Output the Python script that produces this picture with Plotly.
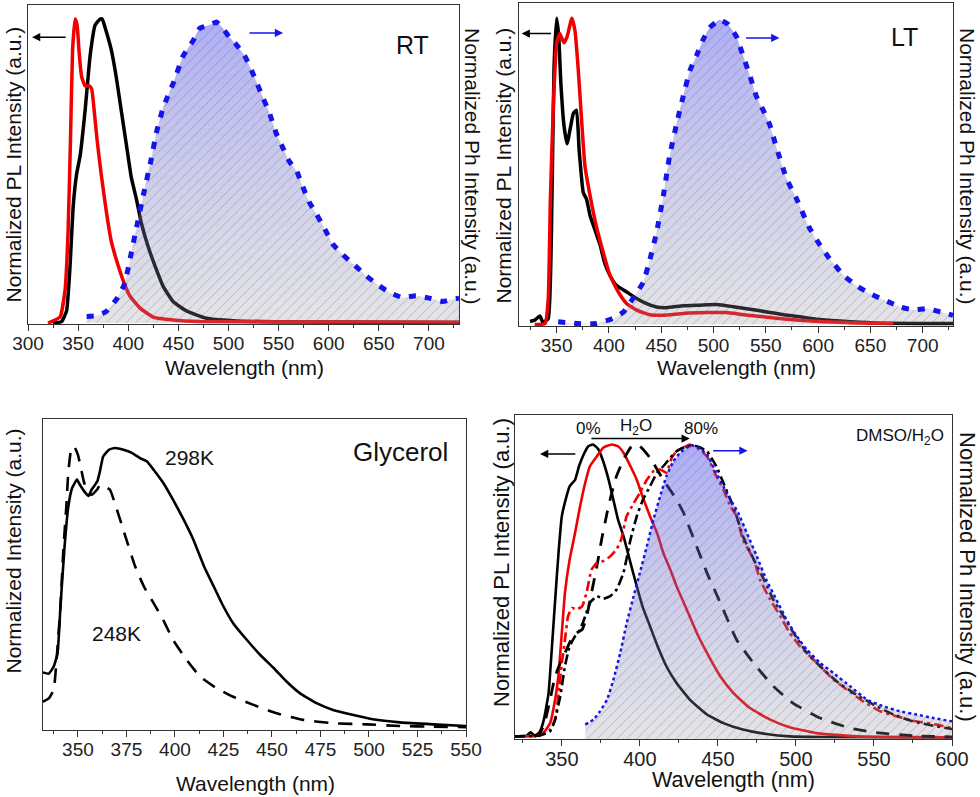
import plotly.graph_objs as go

FONT = 'Liberation Sans, Arial, sans-serif'
W, H = 980, 797

# ---------- top left: RT ----------
rt_red_x = [320, 332, 337, 340, 342.5, 344.5, 347, 349, 351, 353.5, 357, 361, 363.5, 366, 369, 373, 378,
            383, 388, 395, 401.5, 411.5, 425, 445, 471, 730]
rt_red_y = [0, 0.02, 0.11, 0.30, 0.62, 0.90, 1.0, 0.98, 0.89, 0.81, 0.78, 0.78, 0.77, 0.70, 0.60, 0.49, 0.37,
            0.27, 0.21, 0.14, 0.09, 0.05, 0.02, 0.01, 0.005, 0.003]
rt_black_x = [325, 333.5, 338.5, 342, 345, 348.5, 352, 357, 362, 367, 372, 374, 378, 383, 388, 393, 398, 403,
              408, 413, 420, 426.5, 435, 445, 458, 478, 504.5, 554.5, 730]
rt_black_y = [0, 0.005, 0.04, 0.19, 0.38, 0.49, 0.55, 0.70, 0.88, 0.98, 1.0, 1.0, 0.96, 0.90, 0.81, 0.70, 0.59,
              0.48, 0.41, 0.33, 0.25, 0.19, 0.12, 0.07, 0.04, 0.016, 0.008, 0.004, 0.002]
rt_blue_x = [358.5, 368.5, 378, 388, 396.5, 403, 408, 415, 423, 428, 435, 445, 455, 465, 471.5, 481, 488, 493,
             501, 508, 516, 524.5, 534.5, 541, 547.5, 554.5, 561, 568, 574, 581, 587.5, 596, 604, 614, 626,
             637.5, 649, 661, 674, 687, 700.5, 714, 724, 730]
rt_blue_y = [0.022, 0.024, 0.038, 0.077, 0.13, 0.23, 0.31, 0.42, 0.54, 0.625, 0.71, 0.79, 0.88, 0.93, 0.97,
             0.98, 0.99, 0.975, 0.94, 0.915, 0.88, 0.82, 0.74, 0.69, 0.625, 0.575, 0.53, 0.50, 0.45, 0.395,
             0.36, 0.31, 0.26, 0.225, 0.19, 0.155, 0.126, 0.10, 0.084, 0.09, 0.082, 0.071, 0.079, 0.082]

# ---------- top right: LT ----------
lt_black_x = [324.5, 329, 334, 337, 342, 345, 347.5, 350, 352, 354, 357, 360, 363, 366, 369, 371.5, 375.5,
              378.5, 382, 386.5, 391.5, 396, 401, 407, 417, 426.5, 436, 445.5, 455, 471, 487, 503, 519, 535,
              551, 567, 582.5, 598.5, 621, 653, 729]
lt_black_y = [0.01, 0.014, 0.028, 0.006, 0.02, 0.30, 0.84, 1.0, 0.94, 0.79, 0.65, 0.59, 0.64, 0.69, 0.70,
              0.57, 0.43, 0.41, 0.355, 0.31, 0.26, 0.20, 0.16, 0.128, 0.106, 0.085, 0.068, 0.057, 0.055,
              0.061, 0.063, 0.065, 0.058, 0.05, 0.041, 0.032, 0.025, 0.017, 0.011, 0.005, 0.003]
lt_red_x = [329, 339, 342, 344, 347, 350, 353, 357, 360, 364.5, 367.5, 370.5, 374, 377, 382, 388, 394.5, 401,
            409, 417, 426.5, 439, 452, 471, 493.5, 512.5, 528.5, 547.5, 573, 605, 637, 672]
lt_red_y = [0, 0.003, 0.085, 0.41, 0.73, 0.92, 0.95, 0.92, 0.94, 1.0, 0.96, 0.84, 0.66, 0.52, 0.42, 0.32,
            0.236, 0.16, 0.106, 0.068, 0.047, 0.032, 0.03, 0.036, 0.039, 0.039, 0.032, 0.025, 0.016, 0.009,
            0.005, 0.003]
lt_blue_x = [351.5, 369, 388, 404, 414, 423, 433, 439, 445.5, 452, 458, 465, 471, 477.5, 484, 490, 496.5,
             506, 514, 522, 528.5, 535, 541, 547.5, 554, 560, 570, 579.5, 591, 602, 611, 624.5, 637, 650,
             663, 679, 691.5, 704, 717, 729]
lt_blue_y = [0.009, 0.003, 0.003, 0.02, 0.041, 0.085, 0.139, 0.21, 0.30, 0.42, 0.55, 0.66, 0.745, 0.83,
             0.88, 0.93, 0.97, 0.995, 0.98, 0.94, 0.875, 0.81, 0.745, 0.70, 0.65, 0.58, 0.475, 0.41, 0.32,
             0.258, 0.215, 0.16, 0.126, 0.10, 0.08, 0.057, 0.047, 0.052, 0.041, 0.03]

# ---------- bottom left: glycerol ----------
gly_298_x = [332, 335, 337.5, 339.5, 341, 343, 345, 347, 349.5, 351, 354, 355.5, 357, 360, 361.5, 363, 366,
             369, 373.5, 378, 382, 385.5, 389, 394, 399, 404.5, 409.5, 415, 420, 425, 430, 437, 444, 451,
             457.5, 464.5, 473, 481.5, 492, 502, 516, 533, 550]
gly_298_y = [0.204, 0.20, 0.225, 0.272, 0.438, 0.64, 0.79, 0.858, 0.888, 0.87, 0.84, 0.83, 0.852, 0.882,
             0.923, 0.97, 0.994, 1.0, 0.994, 0.982, 0.964, 0.953, 0.923, 0.876, 0.817, 0.746, 0.675, 0.58,
             0.509, 0.438, 0.379, 0.32, 0.266, 0.219, 0.172, 0.13, 0.095, 0.071, 0.053, 0.038, 0.027, 0.02,
             0.014]
gly_248_x = [332, 335, 337.5, 339, 341, 342.5, 344, 345, 346.5, 348, 350, 351, 353, 354.5, 357, 360, 361.5,
             366.5, 369, 374.5, 379.5, 384, 389, 394, 399, 406, 413, 421.5, 430, 440.5, 452.5, 466, 481.5,
             499, 516, 533, 550]
gly_248_y = [0.10, 0.112, 0.142, 0.249, 0.438, 0.64, 0.79, 0.91, 0.994, 1.006, 0.976, 0.947, 0.882, 0.852,
             0.834, 0.854, 0.87, 0.852, 0.805, 0.686, 0.58, 0.509, 0.45, 0.39, 0.32, 0.249, 0.189, 0.148,
             0.118, 0.089, 0.059, 0.036, 0.024, 0.02, 0.014, 0.012, 0.01]

# ---------- bottom right: DMSO/H2O ----------
d0_x = [320, 327.5, 330, 333, 336, 338.5, 341.5, 343.5, 345.7, 348, 350, 353, 355, 358.5, 361, 364, 367,
        370, 373.5, 376.5, 380, 383, 386, 389.5, 394, 398, 402, 406.5, 411, 417, 423.5, 432, 443, 453.5,
        466, 481, 496, 517.5, 600]
d0_y = [0.009, 0.011, 0.023, 0.009, 0.026, 0.066, 0.156, 0.30, 0.47, 0.64, 0.756, 0.824, 0.858, 0.88,
        0.926, 0.966, 0.994, 1.0, 0.983, 0.943, 0.88, 0.813, 0.745, 0.689, 0.598, 0.519, 0.445, 0.383,
        0.32, 0.247, 0.19, 0.134, 0.083, 0.054, 0.032, 0.017, 0.009, 0.007, 0.005]
d20_x = [320, 332, 338, 342.5, 345.7, 348, 350, 352, 355, 358.5, 361.7, 365, 368, 372.5, 376.5, 382, 386,
         389.5, 394, 398, 402, 406.5, 411, 415, 419.5, 423.5, 430, 436.5, 443, 451.5, 460, 470.5, 483.5,
         496, 513, 539, 600]
d20_y = [0.009, 0.01, 0.02, 0.054, 0.134, 0.224, 0.36, 0.496, 0.609, 0.70, 0.79, 0.87, 0.926, 0.96, 0.989,
         1.0, 0.994, 0.972, 0.926, 0.88, 0.819, 0.756, 0.70, 0.632, 0.575, 0.519, 0.44, 0.36, 0.292, 0.213,
         0.156, 0.105, 0.066, 0.04, 0.02, 0.009, 0.006]
d40_x = [332, 336, 339, 342.5, 345.7, 349, 352, 356.5, 359.5, 363, 366, 369, 372.5, 375.5, 379, 382, 385,
         389.5, 394, 397, 400, 406.5, 415, 423.5, 428, 435.5, 443, 451.5, 462, 472.8, 485.5, 498, 515.5,
         534.7, 549.6, 575, 600]
d40_y = [0.01, 0.02, 0.054, 0.134, 0.213, 0.258, 0.292, 0.343, 0.36, 0.371, 0.417, 0.496, 0.587, 0.677,
         0.768, 0.836, 0.892, 0.949, 0.989, 1.0, 0.994, 0.955, 0.88, 0.813, 0.768, 0.666, 0.564, 0.463,
         0.337, 0.258, 0.179, 0.122, 0.071, 0.037, 0.023, 0.011, 0.007]
d60_x = [320, 336, 342.5, 345.7, 348, 350, 352, 354, 356.5, 359.5, 363, 366, 369, 372.5, 376.5, 381, 385,
         388, 391.5, 396, 400, 404.5, 408.7, 413, 417, 420.5, 423.5, 428, 432, 436.5, 443, 449, 453.5, 458,
         462, 466, 473, 477, 483.5, 490, 496, 502.5, 509, 515.5, 524, 532.5, 543, 554, 564.5, 577, 590,
         600]
d60_y = [0.009, 0.012, 0.032, 0.066, 0.156, 0.258, 0.337, 0.417, 0.445, 0.44, 0.45, 0.50, 0.575, 0.598,
         0.604, 0.62, 0.643, 0.677, 0.756, 0.80, 0.836, 0.88, 0.909, 0.915, 0.904, 0.955, 0.977, 0.989, 1.0,
         0.989, 0.96, 0.892, 0.847, 0.79, 0.756, 0.677, 0.609, 0.541, 0.473, 0.417, 0.36, 0.315, 0.281,
         0.247, 0.202, 0.168, 0.128, 0.094, 0.077, 0.06, 0.049, 0.037]
d80_x = [320, 336, 342.5, 345.7, 349, 352, 355, 358.5, 361.7, 365, 368, 372.5, 376.5, 381, 385, 389.5, 394,
         398, 402, 406.5, 411, 415, 419.5, 423.5, 430, 436.5, 443, 449, 453.5, 458, 462, 466, 473, 479.5,
         485.5, 492, 498.5, 507, 515.5, 526, 537, 549.6, 562.5, 575, 588, 600]
d80_y = [0.009, 0.012, 0.026, 0.066, 0.145, 0.247, 0.315, 0.349, 0.371, 0.417, 0.462, 0.485, 0.476,
         0.485, 0.507, 0.564, 0.677, 0.756, 0.813, 0.858, 0.904, 0.926, 0.955, 0.977, 0.994, 0.994, 0.977,
         0.926, 0.87, 0.813, 0.756, 0.689, 0.609, 0.541, 0.473, 0.417, 0.36, 0.292, 0.247, 0.196, 0.156,
         0.117, 0.083, 0.06, 0.045, 0.034]
dph_x = [365, 370.3, 374.5, 379, 383, 387.4, 391.6, 396, 400, 404.5, 408.7, 413, 417, 421.5, 425.8, 430,
         433, 437.5, 443, 449, 453.5, 458, 463, 468.5, 475, 481, 487.5, 494, 500.5, 507, 515.5, 524, 534.7,
         545.4, 556, 566.6, 577.3, 588, 600]
dph_y = [0.049, 0.066, 0.094, 0.134, 0.20, 0.292, 0.394, 0.485, 0.564, 0.655, 0.745, 0.824, 0.892, 0.943,
         0.972, 0.989, 0.997, 0.989, 0.966, 0.904, 0.858, 0.813, 0.768, 0.70, 0.62, 0.541, 0.473, 0.405,
         0.349, 0.303, 0.258, 0.224, 0.179, 0.134, 0.111, 0.094, 0.083, 0.071, 0.06]

RED = 'rgb(240,0,0)'
BLACK = 'black'
BLUE = 'rgb(20,20,235)'


def curve(x, y, color, width, ax, dash='solid'):
    return go.Scatter(x=x, y=y, mode='lines', xaxis='x' + ax, yaxis='y' + ax, hoverinfo='skip',
                      line=dict(color=color, width=width, dash=dash, shape='spline', smoothing=0.4))


def ph_fill(x, y, ax):
    grad = go.Scatter(x=x, y=y, mode='lines', fill='tozeroy', xaxis='x' + ax, yaxis='y' + ax,
                      line=dict(width=0, shape='spline', smoothing=0.4), hoverinfo='skip',
                      fillgradient=dict(type='vertical', start=0, stop=1,
                                        colorscale=[[0, 'rgba(150,150,165,0.26)'],
                                                    [1, 'rgba(80,80,240,0.47)']]))
    hatch = go.Scatter(x=x, y=y, mode='lines', fill='tozeroy', xaxis='x' + ax, yaxis='y' + ax,
                       line=dict(width=0, shape='spline', smoothing=0.4), hoverinfo='skip',
                       fillcolor='rgba(0,0,0,0)',
                       fillpattern=dict(shape='/', fgcolor='rgba(60,60,60,0.6)',
                                        bgcolor='rgba(0,0,0,0)', size=7, solidity=0.12))
    return [grad, hatch]


traces = []
# RT
traces += [curve(rt_black_x, rt_black_y, BLACK, 3.5, ''), curve(rt_red_x, rt_red_y, RED, 3.5, '')]
traces += ph_fill(rt_blue_x, rt_blue_y, '')
traces.append(curve(rt_blue_x, rt_blue_y, BLUE, 5, '', dash='7px,9px'))
# LT
traces += [curve(lt_black_x, lt_black_y, BLACK, 3.5, '2'), curve(lt_red_x, lt_red_y, RED, 3.5, '2')]
traces += ph_fill(lt_blue_x, lt_blue_y, '2')
traces.append(curve(lt_blue_x, lt_blue_y, BLUE, 5, '2', dash='7px,9px'))
# glycerol
traces += [curve(gly_298_x, gly_298_y, BLACK, 2.6, '3'),
           curve(gly_248_x, gly_248_y, BLACK, 2.6, '3', dash='14px,10px')]
# DMSO/H2O
traces += [curve(d0_x, d0_y, BLACK, 2.6, '4'),
           curve(d20_x, d20_y, RED, 2.6, '4'),
           curve(d40_x, d40_y, BLACK, 2.8, '4', dash='13px,10px'),
           curve(d60_x, d60_y, RED, 2.6, '4', dash='10px,4px,3px,4px'),
           curve(d80_x, d80_y, BLACK, 2.6, '4', dash='10px,4px,3px,4px')]
traces += ph_fill(dph_x, dph_y, '4')
traces.append(curve(dph_x, dph_y, BLUE, 2.5, '4', dash='3px,3px'))


def xax(left, right, rng, dtick, minor, size, anchor, tick0=300):
    return dict(domain=[left / W, right / W], range=rng, dtick=dtick, tick0=tick0, ticks='outside',
                ticklen=6, tickwidth=1.2, tickcolor='#333', anchor=anchor, automargin=False,
                ticklabelstandoff=-4,
                minor=dict(dtick=minor, ticks='outside', ticklen=3, tickcolor='#333'),
                showline=True, mirror=True, linecolor='#333', linewidth=1.2, showgrid=False,
                zeroline=False, tickfont=dict(size=size, color='#222'))


def yax(top, bottom, rng, anchor):
    return dict(domain=[1 - bottom / H, 1 - top / H], range=rng, anchor=anchor, showticklabels=False,
                ticks='', showline=True, mirror=True, linecolor='#333', linewidth=1.2,
                showgrid=False, zeroline=False, automargin=False)


annotations = []


def text(t, x, y, size, angle=0):
    annotations.append(dict(text=t, x=x / W, y=1 - y / H, xref='paper', yref='paper', showarrow=False,
                            textangle=angle, font=dict(size=size, color='#111'),
                            xanchor='center', yanchor='middle'))


def label(t, x, y, ax, size):
    annotations.append(dict(text=t, x=x, y=y, xref='x' + ax, yref='y' + ax, showarrow=False,
                            font=dict(size=size, color='#111'), xanchor='center', yanchor='middle'))


def arrow(x0, x1, y, ax, color):
    annotations.append(dict(x=x1, y=y, ax=x0, ay=y, xref='x' + ax, yref='y' + ax, axref='x' + ax,
                            ayref='y' + ax, text='', showarrow=True, arrowhead=2, arrowsize=1.1,
                            arrowwidth=1.5, arrowcolor=color))


# axis titles
text('Normalized PL Intensity (a.u.)', 12.5, 165, 21, -90)
text('Normalized Ph Intensity (a.u.)', 473, 166, 21, 90)
text('Wavelength (nm)', 244, 368, 21)
text('Normalized PL Intensity (a.u.)', 502.5, 166, 21, -90)
text('Normalized Ph Intensity (a.u.)', 968, 166, 21, 90)
text('Wavelength (nm)', 736, 368, 21)
text('Normalized Intensity (a.u.)', 12.5, 551, 21, -90)
text('Wavelength (nm)', 255, 783, 21)
text('Normalized PL Intensity (a.u.)', 501, 563, 22, -90)
text('Normalized Ph Intensity (a.u.)', 968, 577, 22, 90)
text('Wavelength (nm)', 733, 780, 21.5)

# in-plot labels and arrows
label('RT', 684, 0.914, '', 25)
arrow(339, 304, 0.94, '', BLACK)
arrow(519.5, 554.5, 0.954, '', BLUE)
label('LT', 683, 0.94, '2', 25)
arrow(346, 316.5, 0.95, '2', BLACK)
arrow(529.7, 563, 0.936, '2', BLUE)
label('Glycerol', 516, 0.987, '3', 26)
label('298K', 407.7, 0.966, '3', 21)
label('248K', 370, 0.344, '3', 21)
label('0%', 366.9, 1.053, '4', 17)
label('H<sub>2</sub>O', 397.4, 1.06, '4', 17)
label('80%', 438.9, 1.053, '4', 17)
arrow(368, 432, 1.02, '4', BLACK)
arrow(359.6, 336, 0.968, '4', BLACK)
arrow(446, 469, 0.979, '4', BLUE)
label('DMSO/H<sub>2</sub>O', 566.7, 1.026, '4', 17)

layout = go.Layout(
    width=W, height=H, margin=dict(l=0, r=0, t=0, b=0, autoexpand=False),
    paper_bgcolor='white', plot_bgcolor='white', showlegend=False,
    font=dict(family=FONT, color='#111'),
    xaxis=xax(28, 459, [300, 730], 50, 25, 19, 'y'),
    yaxis=yax(5, 324, [-0.003, 1.046], 'x'),
    xaxis2=xax(519, 953, [314, 729], 50, 25, 19, 'y2'),
    yaxis2=yax(3, 326, [-0.005, 1.05], 'x2'),
    xaxis3=xax(43, 466, [332, 550], 25, 12.5, 19, 'y3', tick0=350),
    yaxis3=yax(419, 730, [0, 1.103], 'x3'),
    xaxis4=xax(515, 952, [320, 600], 50, 25, 20, 'y4'),
    yaxis4=yax(415, 739, [0, 1.10], 'x4'),
    annotations=annotations,
)

fig = go.Figure(data=traces, layout=layout)
# the page's default body margin would push the 980x797 figure off the window
fig.write_html('out.html', config={'displayModeBar': False},
               post_script="document.body.style.margin = '0';")
